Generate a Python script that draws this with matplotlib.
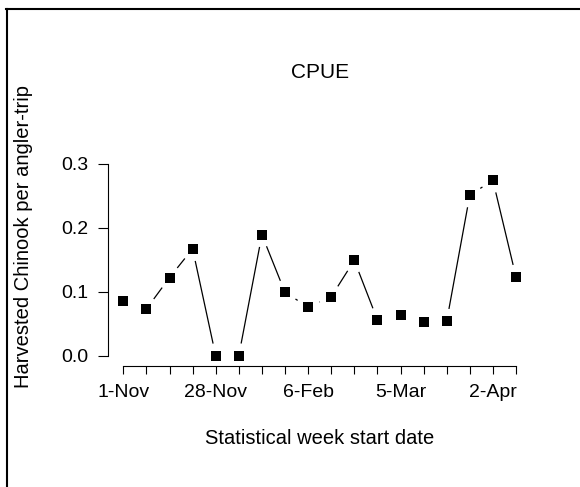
import numpy as np
import matplotlib
matplotlib.use("Agg")
import matplotlib.pyplot as plt
from matplotlib.lines import Line2D

plt.rcParams['font.family'] = ['Liberation Sans', 'DejaVu Sans']

# ---- data ----
weeks = list(range(1, 19))
cpue = [0.086, 0.073, 0.122, 0.167, 0.0, 0.0, 0.189, 0.099, 0.076,
        0.092, 0.149, 0.056, 0.064, 0.052, 0.054, 0.251, 0.274, 0.123]
tick_positions = [1, 5, 9, 13, 17]
tick_labels = ['1-Nov', '28-Nov', '6-Feb', '5-Mar', '2-Apr']
yticks = [0.0, 0.1, 0.2, 0.3]
ytick_labels = ['0.0', '0.1', '0.2', '0.3']
title = 'CPUE'
xlabel = 'Statistical week start date'
ylabel = 'Harvested Chinook per angler-trip'

W, H = 580, 487
fig = plt.figure(figsize=(W / 100, H / 100), dpi=100)

# axes box in pixels
L, R, T, B = 100, 530, 150, 380
ax = fig.add_axes([L / W, (H - B) / H, (R - L) / W, (B - T) / H])

px_x = 23.1      # px per week
px_y = 640.0     # px per unit
x1_px = 123.3
y0_px = 355.7
ax.set_xlim(1 - (x1_px - L) / px_x, 1 + (R - x1_px) / px_x)
ax.set_ylim(-(B - y0_px) / px_y, (y0_px - T) / px_y)

# points
ax.plot(weeks, cpue, linestyle='none', marker='s', markersize=6.5,
        color='black', markeredgewidth=0, zorder=3)

# R type="b" lines: segments with gaps around points
fig.canvas.draw()
trans = ax.transData
inv = trans.inverted()
gap = 12.4
pts = trans.transform(np.column_stack([weeks, cpue]))
for i in range(len(pts) - 1):
    p0, p1 = pts[i], pts[i + 1]
    d = p1 - p0
    dist = np.hypot(*d)
    if dist > 2 * gap:
        u = d / dist
        a = inv.transform(p0 + u * gap)
        b = inv.transform(p1 - u * gap)
        ax.plot([a[0], b[0]], [a[1], b[1]], color='black', lw=0.9,
                solid_capstyle='butt', zorder=2)

# spines R style
for s in ['top', 'right']:
    ax.spines[s].set_visible(False)
ax.spines['left'].set_position(('data', 1 - (x1_px - 108) / px_x))
ax.spines['bottom'].set_position(('data', -(365.7 - y0_px) / px_y))
ax.spines['left'].set_bounds(0, 0.3)
ax.spines['bottom'].set_bounds(1, 18)
for s in ['left', 'bottom']:
    ax.spines[s].set_linewidth(0.8)

ax.set_xticks(weeks)
ax.set_xticklabels([tick_labels[tick_positions.index(w)] if w in tick_positions else ''
                    for w in weeks], fontsize=14)
ax.set_yticks(yticks)
ax.set_yticklabels(ytick_labels, fontsize=14)
ax.tick_params(axis='x', length=6, width=0.8, pad=7)
ax.tick_params(axis='y', length=7, width=0.8, pad=7)
ax.patch.set_visible(False)

fig.text(320 / W, 1 - 72.5 / H, title, ha='center', va='center', fontsize=15)
fig.text(320 / W, 1 - 438 / H, xlabel, ha='center', va='center', fontsize=14.5)
fig.text(24 / W, 1 - 236.5 / H, ylabel, ha='center', va='center',
         rotation=90, fontsize=14.5)

# outer frame (top and left)
fig.add_artist(Line2D([6 / W, 1], [1 - 9 / H, 1 - 9 / H], transform=fig.transFigure,
                      color='black', lw=1.5))
fig.add_artist(Line2D([7 / W, 7 / W], [0, 1 - 9 / H], transform=fig.transFigure,
                      color='black', lw=1.5))

fig.savefig('out.png', dpi=100)
